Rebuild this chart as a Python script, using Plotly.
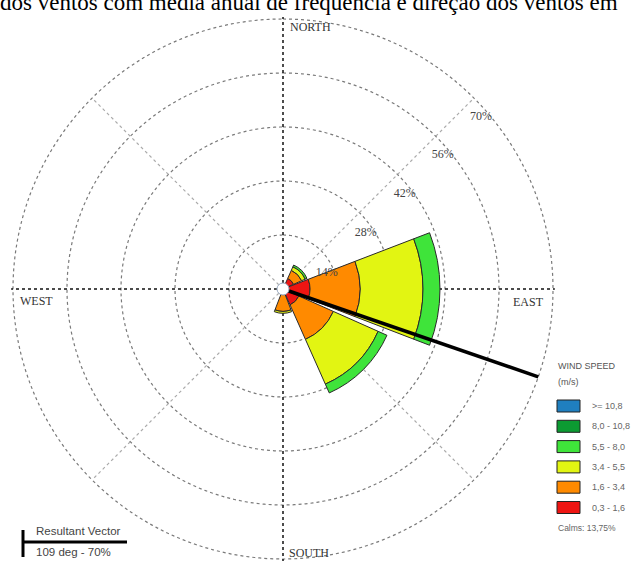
import plotly.graph_objects as go

# ---------------- data ----------------
directions = ["N", "NE", "E", "SE", "S", "SW", "W", "NW"]
bearings = [0, 45, 90, 135, 180, 225, 270, 315]

# frequency (%) per direction for each wind-speed class (m/s)
freq_03_16 = [0.0, 3.0, 7.0, 4.5, 1.5, 0.0, 0.0, 0.0]
freq_16_34 = [0.0, 2.3, 13.0, 9.8, 4.3, 0.0, 0.0, 0.0]
freq_34_55 = [0.0, 1.0, 16.3, 12.7, 0.5, 0.0, 0.0, 0.0]
freq_55_80 = [0.0, 0.5, 4.4, 2.5, 0.0, 0.0, 0.0, 0.0]
freq_80_108 = [0.0, 0.0, 0.0, 0.0, 0.0, 0.0, 0.0, 0.0]
freq_108 = [0.0, 0.0, 0.0, 0.0, 0.0, 0.0, 0.0, 0.0]

class_labels = ["0,3 - 1,6", "1,6 - 3,4", "3,4 - 5,5", "5,5 - 8,0", "8,0 - 10,8", ">= 10,8"]
class_colors = ["#ee1512", "#ff8a00", "#e2f512", "#3fe43a", "#0c9b32", "#1f7fbf"]
class_freqs = [freq_03_16, freq_16_34, freq_34_55, freq_55_80, freq_80_108, freq_108]

calms_pct = "13,75%"
ring_values = [14, 28, 42, 56, 70]
ring_labels = ["14%", "28%", "42%", "56%", "70%"]
resultant_deg = 109
resultant_pct = 70

title_text = "dos ventos com média anual de frequência e direção dos ventos em"

# ---------------- layout geometry ----------------
W, H = 641, 562
CX, CY = 283, 289          # centre of the rose, px
R_OUT = 270                # px radius of the outermost ring
R_MAX = 70.5               # radial range upper bound
rad_px = R_OUT * R_MAX / ring_values[-1]
dom_x = [(CX - rad_px) / W, (CX + rad_px) / W]
dom_y = [(H - CY - rad_px) / H, (H - CY + rad_px) / H]

SERIF = "Liberation Serif, Times New Roman, serif"
SANS = "Liberation Sans, Arial, sans-serif"

fig = go.Figure()

# ---- grid (lower polar) ----
ring_theta = list(range(0, 361, 1))
for rv in ring_values:
    fig.add_trace(go.Scatterpolar(
        r=[rv] * len(ring_theta), theta=ring_theta, mode="lines",
        line=dict(color="#7a7a7a", width=1.2, dash="3px,3px"),
        hoverinfo="skip", showlegend=False, subplot="polar"))
for b in [45, 135, 225, 315]:
    fig.add_trace(go.Scatterpolar(
        r=[0, ring_values[-1]], theta=[b, b], mode="lines",
        line=dict(color="#ababab", width=1.2, dash="3px,3px"),
        hoverinfo="skip", showlegend=False, subplot="polar"))
for b in [0, 90, 180, 270]:
    fig.add_trace(go.Scatterpolar(
        r=[0, R_MAX], theta=[b, b], mode="lines",
        line=dict(color="#111111", width=1.5, dash="3px,3px"),
        hoverinfo="skip", showlegend=False, subplot="polar"))

# ---- stacked wind-speed sectors (upper polar) ----
for lab, col, vals in zip(class_labels, class_colors, class_freqs):
    rr = [v if v > 0 else None for v in vals]
    fig.add_trace(go.Barpolar(
        r=rr, theta=bearings, width=[42] * len(bearings), name=lab,
        marker=dict(color=col, line=dict(color="#2a2a2a", width=1)),
        showlegend=False, subplot="polar2"))

# resultant vector
fig.add_trace(go.Scatterpolar(
    r=[0, resultant_pct], theta=[resultant_deg, resultant_deg], mode="lines",
    line=dict(color="#000000", width=3.5), hoverinfo="skip",
    showlegend=False, subplot="polar2"))

# calm circle at the centre
fig.add_trace(go.Scatterpolar(
    r=[0], theta=[0], mode="markers",
    marker=dict(size=12, color="white", line=dict(color="#9aaac0", width=1)),
    hoverinfo="skip", showlegend=False, subplot="polar2"))

# ring labels
fig.add_trace(go.Scatterpolar(
    r=[12.1, 25.9, 40.1, 54.1, 68.0], theta=[70, 56, 52, 50, 49],
    mode="text", text=ring_labels, textposition="middle center",
    textfont=dict(family=SERIF, size=12, color="#444444"),
    hoverinfo="skip", showlegend=False, subplot="polar2"))

hidden_angular = dict(rotation=90, direction="clockwise", showgrid=False,
                      showticklabels=False, showline=False, ticks="")
hidden_radial = dict(range=[0, R_MAX], visible=False, showgrid=False)

fig.update_layout(
    width=W, height=H, margin=dict(l=0, r=0, t=0, b=0),
    paper_bgcolor="white", plot_bgcolor="white",
    polar=dict(domain=dict(x=dom_x, y=dom_y), bgcolor="white",
               angularaxis=hidden_angular, radialaxis=hidden_radial),
    polar2=dict(domain=dict(x=dom_x, y=dom_y), bgcolor="rgba(0,0,0,0)",
                barmode="stack",
                angularaxis=hidden_angular, radialaxis=hidden_radial),
)

annotations = []
shapes = []


def px(x):
    return x / W


def py(y):
    return 1 - y / H


# title line (runs off the top edge of the page)
annotations.append(dict(x=px(-2), y=py(17), xref="paper", yref="paper",
                        xanchor="left", yanchor="bottom", showarrow=False,
                        text=title_text, font=dict(family=SERIF, size=23, color="#000")))

# compass labels
for txt, x, y in [("NORTH", 310, 27), ("SOUTH", 309, 553), ("WEST", 36, 301), ("EAST", 528, 302)]:
    annotations.append(dict(x=px(x), y=py(y), xref="paper", yref="paper",
                            xanchor="center", yanchor="middle", showarrow=False,
                            text=txt, font=dict(family=SERIF, size=12, color="#333")))

# wind-speed legend
annotations.append(dict(x=px(556), y=py(366), xref="paper", yref="paper",
                        xanchor="left", yanchor="middle", showarrow=False,
                        text="WIND SPEED", font=dict(family=SANS, size=9, color="#555")))
annotations.append(dict(x=px(556), y=py(382), xref="paper", yref="paper",
                        xanchor="left", yanchor="middle", showarrow=False,
                        text="(m/s)", font=dict(family=SANS, size=9, color="#555")))
for i, (lab, col) in enumerate(zip(class_labels[::-1], class_colors[::-1])):
    top = 400 + 20.3 * i
    shapes.append(dict(type="rect", xref="paper", yref="paper",
                       x0=px(557), x1=px(580), y0=py(top + 12), y1=py(top),
                       fillcolor=col, line=dict(color="#222", width=1)))
    annotations.append(dict(x=px(590), y=py(top + 6), xref="paper", yref="paper",
                            xanchor="left", yanchor="middle", showarrow=False,
                            text=lab, font=dict(family=SANS, size=9, color="#666")))
annotations.append(dict(x=px(556), y=py(528), xref="paper", yref="paper",
                        xanchor="left", yanchor="middle", showarrow=False,
                        text="Calms: " + calms_pct, font=dict(family=SANS, size=8.5, color="#666")))

# resultant vector key
shapes.append(dict(type="line", xref="paper", yref="paper",
                   x0=px(23), x1=px(23), y0=py(530), y1=py(557),
                   line=dict(color="#000", width=3)))
shapes.append(dict(type="line", xref="paper", yref="paper",
                   x0=px(23), x1=px(127), y0=py(542), y1=py(542),
                   line=dict(color="#000", width=3)))
annotations.append(dict(x=px(34), y=py(531), xref="paper", yref="paper",
                        xanchor="left", yanchor="middle", showarrow=False,
                        text="Resultant Vector", font=dict(family=SANS, size=11.5, color="#444")))
annotations.append(dict(x=px(34), y=py(552), xref="paper", yref="paper",
                        xanchor="left", yanchor="middle", showarrow=False,
                        text=f"{resultant_deg} deg - {resultant_pct}%",
                        font=dict(family=SANS, size=11.5, color="#444")))

fig.update_layout(annotations=annotations, shapes=shapes)

fig.write_html("out.html")
